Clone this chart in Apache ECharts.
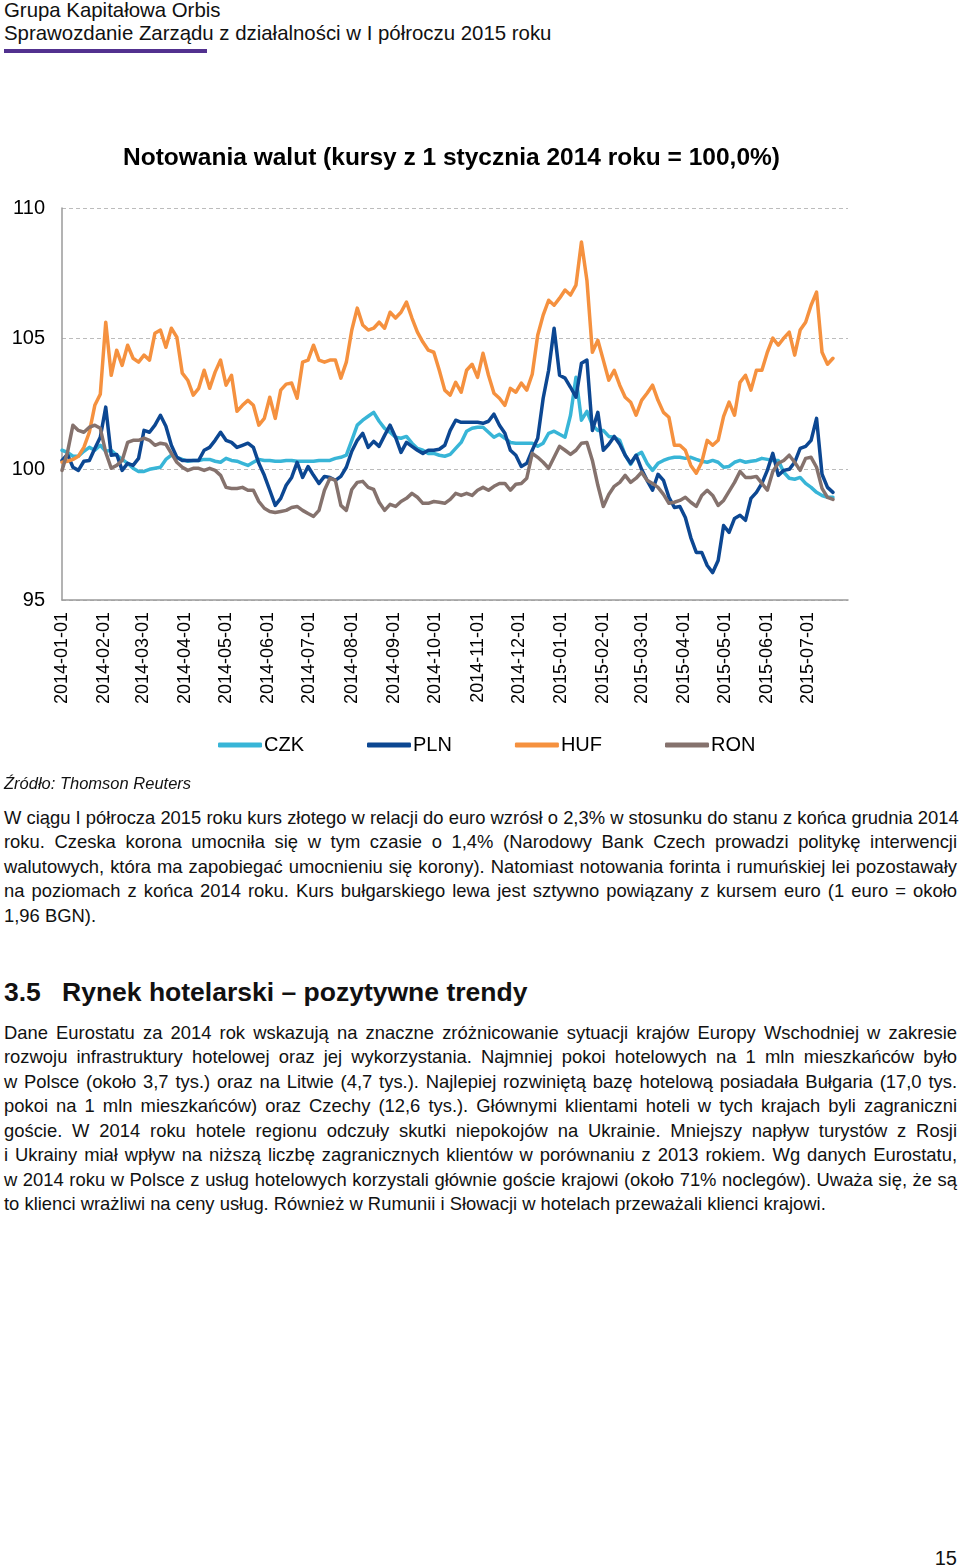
<!DOCTYPE html>
<html>
<head>
<meta charset="utf-8">
<script src="https://cdn.jsdelivr.net/npm/echarts@6/dist/echarts.min.js"></script>
<style>
  html, body { margin: 0; padding: 0; background: #fff; }
  body { width: 960px; height: 1567px; position: relative; overflow: hidden;
         font-family: "Liberation Sans", Arial, sans-serif; color: #111; }
  .abs { position: absolute; white-space: nowrap; }
  #chart { position: absolute; left: 0; top: 0; width: 960px; height: 800px; }
  .hdr { font-size: 20.4px; line-height: 24px; left: 4px; }
  .bar { position: absolute; left: 4px; top: 49px; width: 203px; height: 4px; background: #52318f; }
  .para { position: absolute; left: 4px; width: 953px; font-size: 18.4px; line-height: 24.5px; }
  .para div { text-align: justify; text-align-last: justify; white-space: nowrap; }
  .para div.last { text-align-last: left; }
  .src { left: 4px; top: 773px; font-size: 16.5px; line-height: 20px; font-style: italic; }
  .h2 { top: 977px; font-size: 26.5px; line-height: 30px; font-weight: bold; }
  .pg { right: 3px; top: 1547px; font-size: 20px; line-height: 22px; }
</style>
</head>
<body>
<div class="abs hdr" style="top:-2px">Grupa Kapitałowa Orbis</div>
<div class="abs hdr" style="top:21px">Sprawozdanie Zarządu z działalności w I półroczu 2015 roku</div>
<div class="bar"></div>
<div id="chart"></div>
<div class="abs src">Źródło: Thomson Reuters</div>
<div class="para" style="top:805.5px">
  <div>W ciągu I półrocza 2015 roku kurs złotego w relacji do euro wzrósł o 2,3% w stosunku do stanu z końca grudnia 2014</div>
  <div>roku. Czeska korona umocniła się w tym czasie o 1,4% (Narodowy Bank Czech prowadzi politykę interwencji</div>
  <div>walutowych, która ma zapobiegać umocnieniu się korony). Natomiast notowania forinta i rumuńskiej lei pozostawały</div>
  <div>na poziomach z końca 2014 roku. Kurs bułgarskiego lewa jest sztywno powiązany z kursem euro (1 euro = około</div>
  <div class="last">1,96 BGN).</div>
</div>
<div class="abs h2" style="left:4px">3.5</div>
<div class="abs h2" style="left:62px">Rynek hotelarski – pozytywne trendy</div>
<div class="para" style="top:1020.5px">
  <div>Dane Eurostatu za 2014 rok wskazują na znaczne zróżnicowanie sytuacji krajów Europy Wschodniej w zakresie</div>
  <div>rozwoju infrastruktury hotelowej oraz jej wykorzystania. Najmniej pokoi hotelowych na 1 mln mieszkańców było</div>
  <div>w Polsce (około 3,7 tys.) oraz na Litwie (4,7 tys.). Najlepiej rozwiniętą bazę hotelową posiadała Bułgaria (17,0 tys.</div>
  <div>pokoi na 1 mln mieszkańców) oraz Czechy (12,6 tys.). Głównymi klientami hoteli w tych krajach byli zagraniczni</div>
  <div>goście. W 2014 roku hotele regionu odczuły skutki niepokojów na Ukrainie. Mniejszy napływ turystów z Rosji</div>
  <div>i Ukrainy miał wpływ na niższą liczbę zagranicznych klientów w porównaniu z 2013 rokiem. Wg danych Eurostatu,</div>
  <div>w 2014 roku w Polsce z usług hotelowych korzystali głównie goście krajowi (około 71% noclegów). Uważa się, że są</div>
  <div class="last">to klienci wrażliwi na ceny usług. Również w Rumunii i Słowacji w hotelach przeważali klienci krajowi.</div>
</div>
<div class="abs pg">15</div>

<script>
// ---- chart data (index, 1 Jan 2014 = 100) ----
const title = 'Notowania walut (kursy z 1 stycznia 2014 roku = 100,0%)';
const seriesNames = ['CZK', 'PLN', 'HUF', 'RON'];
const firstDay = '2014-01-01';
const lastDay = '2015-07-30';
const stepDays = 4; // observations every 4 days from firstDay
const yTicks = [95, 100, 105, 110];

const czk = [100.73,100.65,100.50,100.50,100.69,100.84,100.73,100.92,100.69,100.73,
100.54,100.38,100.23,100.04,99.92,99.92,100.00,100.04,100.08,100.38,
100.54,100.46,100.38,100.31,100.34,100.34,100.38,100.38,100.31,100.27,
100.42,100.34,100.31,100.23,100.15,100.27,100.38,100.34,100.34,100.31,
100.31,100.34,100.34,100.31,100.31,100.31,100.31,100.34,100.34,100.34,
100.42,100.46,100.54,101.11,101.69,101.88,102.03,102.18,101.84,101.57,
101.42,101.23,101.19,101.26,101.00,100.80,100.73,100.61,100.61,100.54,
100.50,100.57,100.80,101.03,101.46,101.57,101.61,101.61,101.42,101.23,
101.34,101.19,101.03,101.00,101.00,101.00,101.00,100.88,101.00,101.38,
101.46,101.34,101.23,102.07,103.52,101.88,102.22,101.69,101.49,101.49,
101.26,101.23,101.11,100.54,100.19,100.54,100.65,100.23,99.96,100.23,
100.34,100.42,100.46,100.46,100.42,100.46,100.38,100.31,100.27,100.34,
100.27,100.08,100.11,100.27,100.34,100.27,100.31,100.34,100.42,100.38,
100.34,100.34,99.89,99.66,99.62,99.69,99.46,99.31,99.12,99.00,
98.93,98.93];

const pln = [100.34,100.57,100.08,99.96,100.31,100.34,100.80,101.23,102.38,100.54,
100.57,99.96,100.23,100.15,100.42,101.49,101.42,101.69,102.07,101.65,
100.92,100.46,100.34,100.34,100.34,100.34,100.73,100.84,101.11,101.42,
101.11,101.03,100.84,100.92,101.00,100.84,100.23,99.77,99.20,98.62,
98.89,99.39,99.69,100.27,99.69,100.11,99.77,99.46,99.73,99.69,
99.58,99.73,100.08,100.69,101.11,101.38,100.84,101.07,100.88,101.30,
101.69,101.23,100.65,101.03,100.88,100.73,100.61,100.73,100.73,100.77,
100.92,101.49,101.88,101.80,101.80,101.80,101.80,101.76,101.84,102.11,
101.69,101.38,100.73,100.54,100.11,100.23,100.73,101.19,102.72,103.79,
105.40,103.60,103.49,103.14,102.76,104.06,104.18,101.49,102.18,100.73,
100.96,101.26,100.96,100.54,100.23,100.54,100.00,99.58,99.20,99.81,
99.58,98.93,98.54,98.58,98.16,97.39,96.82,96.82,96.32,96.05,
96.51,97.85,97.59,98.12,98.24,98.05,98.89,99.12,99.46,99.96,
100.61,99.77,99.96,100.00,100.27,100.80,100.88,101.11,101.95,99.81,
99.31,99.12];

const huf = [100.27,100.31,100.38,100.50,100.84,101.42,102.45,102.87,105.63,103.60,
104.56,103.98,104.75,104.25,104.10,104.37,104.18,105.21,105.33,104.67,
105.40,105.06,103.68,103.41,102.84,103.10,103.79,103.10,103.72,104.18,
103.22,103.60,102.22,102.45,102.64,102.45,101.69,101.95,102.76,101.95,
103.03,103.26,103.30,102.72,104.10,104.18,104.75,104.18,104.10,104.18,
104.18,103.49,104.10,105.33,106.17,105.52,105.33,105.40,105.63,105.40,
106.01,105.79,106.01,106.40,105.79,105.25,104.87,104.56,104.48,103.79,
103.03,102.84,103.33,102.95,103.79,104.02,103.52,104.44,103.60,102.91,
102.72,102.45,103.10,102.95,103.30,103.03,103.64,105.13,105.90,106.47,
106.28,106.55,106.86,106.67,107.05,108.70,107.24,104.48,104.94,104.18,
103.41,103.79,103.22,102.76,102.57,102.07,102.64,102.91,103.22,102.64,
102.18,101.99,100.92,100.92,100.73,100.15,99.85,100.27,101.11,100.92,
101.11,102.03,102.57,102.07,103.33,103.60,103.03,103.79,103.79,104.48,
105.02,104.75,105.02,105.25,104.37,105.33,105.63,106.28,106.78,104.48,
104.02,104.25];

const ron = [99.96,100.65,101.69,101.49,101.42,101.61,101.69,101.57,100.65,100.04,
100.15,100.34,101.03,101.11,101.11,101.19,101.11,100.92,101.00,100.96,
100.61,100.27,100.08,99.96,100.04,100.04,99.96,100.04,99.96,99.77,
99.31,99.27,99.27,99.31,99.20,99.20,98.77,98.51,98.39,98.35,
98.39,98.43,98.54,98.58,98.43,98.31,98.20,98.43,99.20,99.66,
99.58,98.62,98.43,99.23,99.50,99.54,99.31,99.23,98.74,98.43,
98.66,98.58,98.77,98.89,99.08,98.93,98.70,98.70,98.77,98.74,
98.70,98.85,99.08,99.00,99.08,99.00,99.20,99.31,99.20,99.35,
99.46,99.46,99.20,99.43,99.46,99.66,100.61,100.46,100.27,100.04,
100.46,100.88,100.73,100.57,100.73,101.00,101.03,100.34,99.39,98.58,
99.04,99.35,99.50,99.77,99.50,99.66,99.89,99.58,99.46,99.31,
99.04,98.70,98.74,98.81,98.93,98.74,98.58,99.00,99.20,99.00,
98.62,98.81,99.16,99.50,99.92,99.69,99.69,99.73,99.46,99.20,
99.92,100.23,100.34,100.54,100.27,99.96,100.42,100.46,100.08,99.27,
98.93,98.85];

const colors = ['#38b5d7', '#0c4792', '#f5913f', '#85726d'];

// ---- build axis categories (every calendar day) and observation dates ----
const DAY = 86400000;
function iso(t) { return new Date(t).toISOString().slice(0, 10); }
const t0 = Date.parse(firstDay + 'T00:00:00Z');
const t1 = Date.parse(lastDay + 'T00:00:00Z');
const categories = [];
for (let t = t0; t <= t1; t += DAY) categories.push(iso(t));
const obsDates = czk.map((_, i) => iso(t0 + i * stepDays * DAY));

const valuesByName = { CZK: czk, PLN: pln, HUF: huf, RON: ron };

const FONT = '"Liberation Sans", Arial, sans-serif';
const chart = echarts.init(document.getElementById('chart'), null, { renderer: 'canvas' });
chart.setOption({
  animation: false,
  color: colors,
  textStyle: { fontFamily: FONT },
  title: {
    text: title, left: 118, top: 141,
    textStyle: { fontFamily: FONT, fontSize: 24.5, fontWeight: 'bold', color: '#000' }
  },
  legend: {
    data: seriesNames, left: 213, top: 730, icon: 'roundRect',
    itemWidth: 44, itemHeight: 5, itemGap: 63,
    textStyle: { fontFamily: FONT, fontSize: 20, color: '#000', padding: [0, 0, 0, -3] }
  },
  grid: { left: 62, right: 112, top: 208, bottom: 200, containLabel: false },
  xAxis: {
    type: 'category', data: categories, boundaryGap: false,
    axisLine: { show: true, lineStyle: { color: '#9a9a9a', width: 1.5 } },
    axisTick: { show: false },
    splitLine: { show: false },
    axisLabel: {
      interval: (idx, val) => val.slice(8) === '01',
      rotate: 90, margin: 12, fontSize: 18, color: '#000', fontFamily: FONT
    }
  },
  yAxis: {
    type: 'value', min: yTicks[0], max: yTicks[yTicks.length - 1], interval: 5,
    axisLine: { show: true, lineStyle: { color: '#9a9a9a', width: 1.5 } },
    axisTick: { show: false },
    splitLine: { show: true, lineStyle: { color: '#bcbcbc', width: 1, type: [4, 3] } },
    axisLabel: { margin: 17, fontSize: 20, color: '#000', fontFamily: FONT }
  },
  series: seriesNames.map((name, k) => ({
    name, type: 'line', showSymbol: false, symbol: 'none',
    data: valuesByName[name].map((v, i) => [obsDates[i], v]),
    lineStyle: { width: 3.5, color: colors[k], join: 'round', cap: 'round' },
    itemStyle: { color: colors[k] }
  }))
});
</script>
</body>
</html>
